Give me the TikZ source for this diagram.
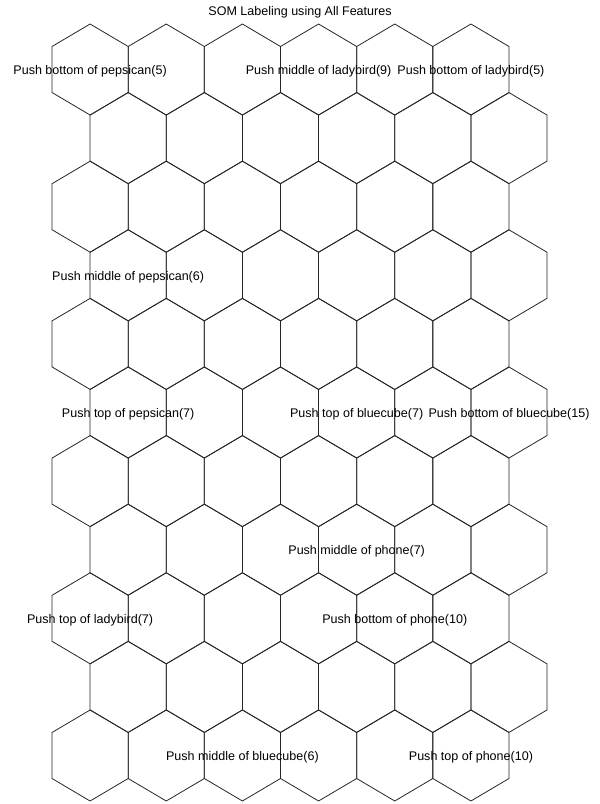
\documentclass[tikz,border=0pt]{standalone}
\usepackage{fontspec}
\setmainfont{Liberation Sans}
\usepackage{xcolor}
\definecolor{somline}{HTML}{262626}

\tikzset{
  somcell/.style={draw=somline, line width=0.6pt, line join=miter},
  somlabel/.style={inner sep=0pt, yshift=-1.2pt, font=\fontsize{9.4}{11}\selectfont},
}

\begin{document}
\begin{tikzpicture}[x=0.75pt, y=-0.75pt]
    \useasboundingbox (0,0) rectangle (600,804);
    % title
    \node[somlabel] (title) at (300,10.5) {SOM Labeling using All Features};
    % hexagonal grid, odd rows shifted half a cell to the right
    \foreach \row in {0,...,10} {
      \pgfmathsetmacro{\shift}{mod(\row,2)*38.08}
      \foreach \col in {0,...,5} {
        \pgfmathsetmacro{\cx}{90.08+76.17*\col+\shift}
        \pgfmathsetmacro{\cy}{69.5+68.6*\row}
        \coordinate (c-\row-\col) at (\cx,\cy);
        \draw[somcell] (c-\row-\col) +(0,-45.5) -- +(38.08,-23) -- +(38.08,23)
          -- +(0,45.5) -- +(-38.08,23) -- +(-38.08,-23) -- cycle;
      }
    }
    % labels
    \node[somlabel] (pepsican-bottom) at (c-0-0) {Push bottom of pepsican(5)};
    \node[somlabel] (ladybird-middle) at (c-0-3) {Push middle of ladybird(9)};
    \node[somlabel] (ladybird-bottom) at (c-0-5) {Push bottom of ladybird(5)};
    \node[somlabel] (pepsican-middle) at (c-3-0) {Push middle of pepsican(6)};
    \node[somlabel] (pepsican-top) at (c-5-0) {Push top of pepsican(7)};
    \node[somlabel] (bluecube-top) at (c-5-3) {Push top of bluecube(7)};
    \node[somlabel] (bluecube-bottom) at (c-5-5) {Push bottom of bluecube(15)};
    \node[somlabel] (phone-middle) at (c-7-3) {Push middle of phone(7)};
    \node[somlabel] (ladybird-top) at (c-8-0) {Push top of ladybird(7)};
    \node[somlabel] (phone-bottom) at (c-8-4) {Push bottom of phone(10)};
    \node[somlabel] (bluecube-middle) at (c-10-2) {Push middle of bluecube(6)};
    \node[somlabel] (phone-top) at (c-10-5) {Push top of phone(10)};
\end{tikzpicture}
\end{document}
